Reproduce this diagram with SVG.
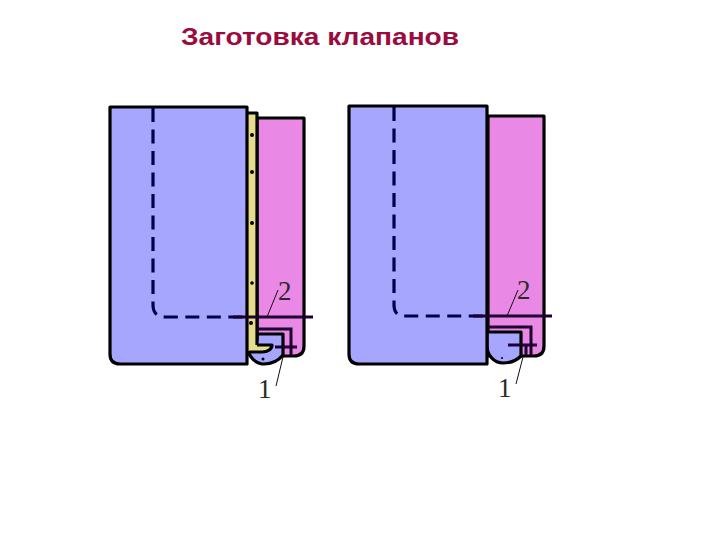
<svg xmlns="http://www.w3.org/2000/svg" width="720" height="540" viewBox="0 0 720 540">
<style>
.s{stroke:#000;stroke-width:3.2;stroke-linejoin:round;fill:none}
.blue{fill:#a6a6ff}.pink{fill:#ea88e6}.yel{fill:#e6dc8c}
.dash{stroke:#00004a;stroke-width:3.2;fill:none;stroke-dasharray:14 7.5}
.ln{stroke:#1c0030;stroke-width:3;fill:none}
.thin{stroke:#111;stroke-width:1;fill:none}
.num{font-family:"Liberation Serif",serif;font-size:27px;fill:#2a2a2a}
.title{font-family:"Liberation Sans",Arial,sans-serif;font-size:24px;font-weight:bold;fill:#9a0b3f}
</style>
<rect width="720" height="540" fill="#fff"/>
<text class="title" x="181" y="45" textLength="278" lengthAdjust="spacingAndGlyphs">Заготовка клапанов</text>
<g id="left-panel">
<path class="s pink" d="M257 118H304V346Q304 356 294 356H257Z"/>
<path class="s blue" d="M247 340V346C248 357 256 364 264 364C272 364 279 360 283 355V334H257V340Z"/>
<path class="yel" d="M248 114H257V345H272C272 349 268 352 262 351H248Z"/>
<path class="s" d="M247 113H257V345M249 352H262C268 352 272 349 272 345H257"/>
<path class="s blue" d="M110 107H247V364H120Q110 364 110 354Z"/>
<path class="dash" d="M153 108V305Q153 317 166 317H247"/>
<g fill="#000"><circle cx="252" cy="135" r="2"/><circle cx="252" cy="172" r="2"/><circle cx="252" cy="223" r="2"/><circle cx="252" cy="283" r="1.8"/><circle cx="251" cy="323" r="2"/><circle cx="263" cy="359" r="1.5"/></g>
</g>
<g id="right-panel">
<path class="s pink" d="M488 116H544V346Q544 356 534 356H488Z"/>
<path class="s blue" d="M487 332H521V356C516 361 510 363 503 363C494 363 487 355 487 346Z"/>
<path class="s blue" d="M349 106H487V364H359Q349 364 349 354Z"/>
<path class="dash" d="M394 107V305Q394 316 405 316H487"/>
<circle cx="502" cy="358" r="1" fill="#000"/>
</g>
<g id="connectors">
<path class="ln" d="M233 317H313M473 316H552"/>
<path class="ln" d="M257 329H291V355M275 347H297"/>
<path class="ln" d="M488 327H531V355M508 345H537M526 345V355"/>
<path class="thin" d="M278 290L267 317M283 357L276 386M518 290L507 316M523 357L516 384"/>
</g>
<g id="labels">
<text class="num" x="278" y="300">2</text>
<text class="num" x="517" y="299">2</text>
<text class="num" x="258" y="398">1</text>
<text class="num" x="498" y="397">1</text>
</g>
</svg>
